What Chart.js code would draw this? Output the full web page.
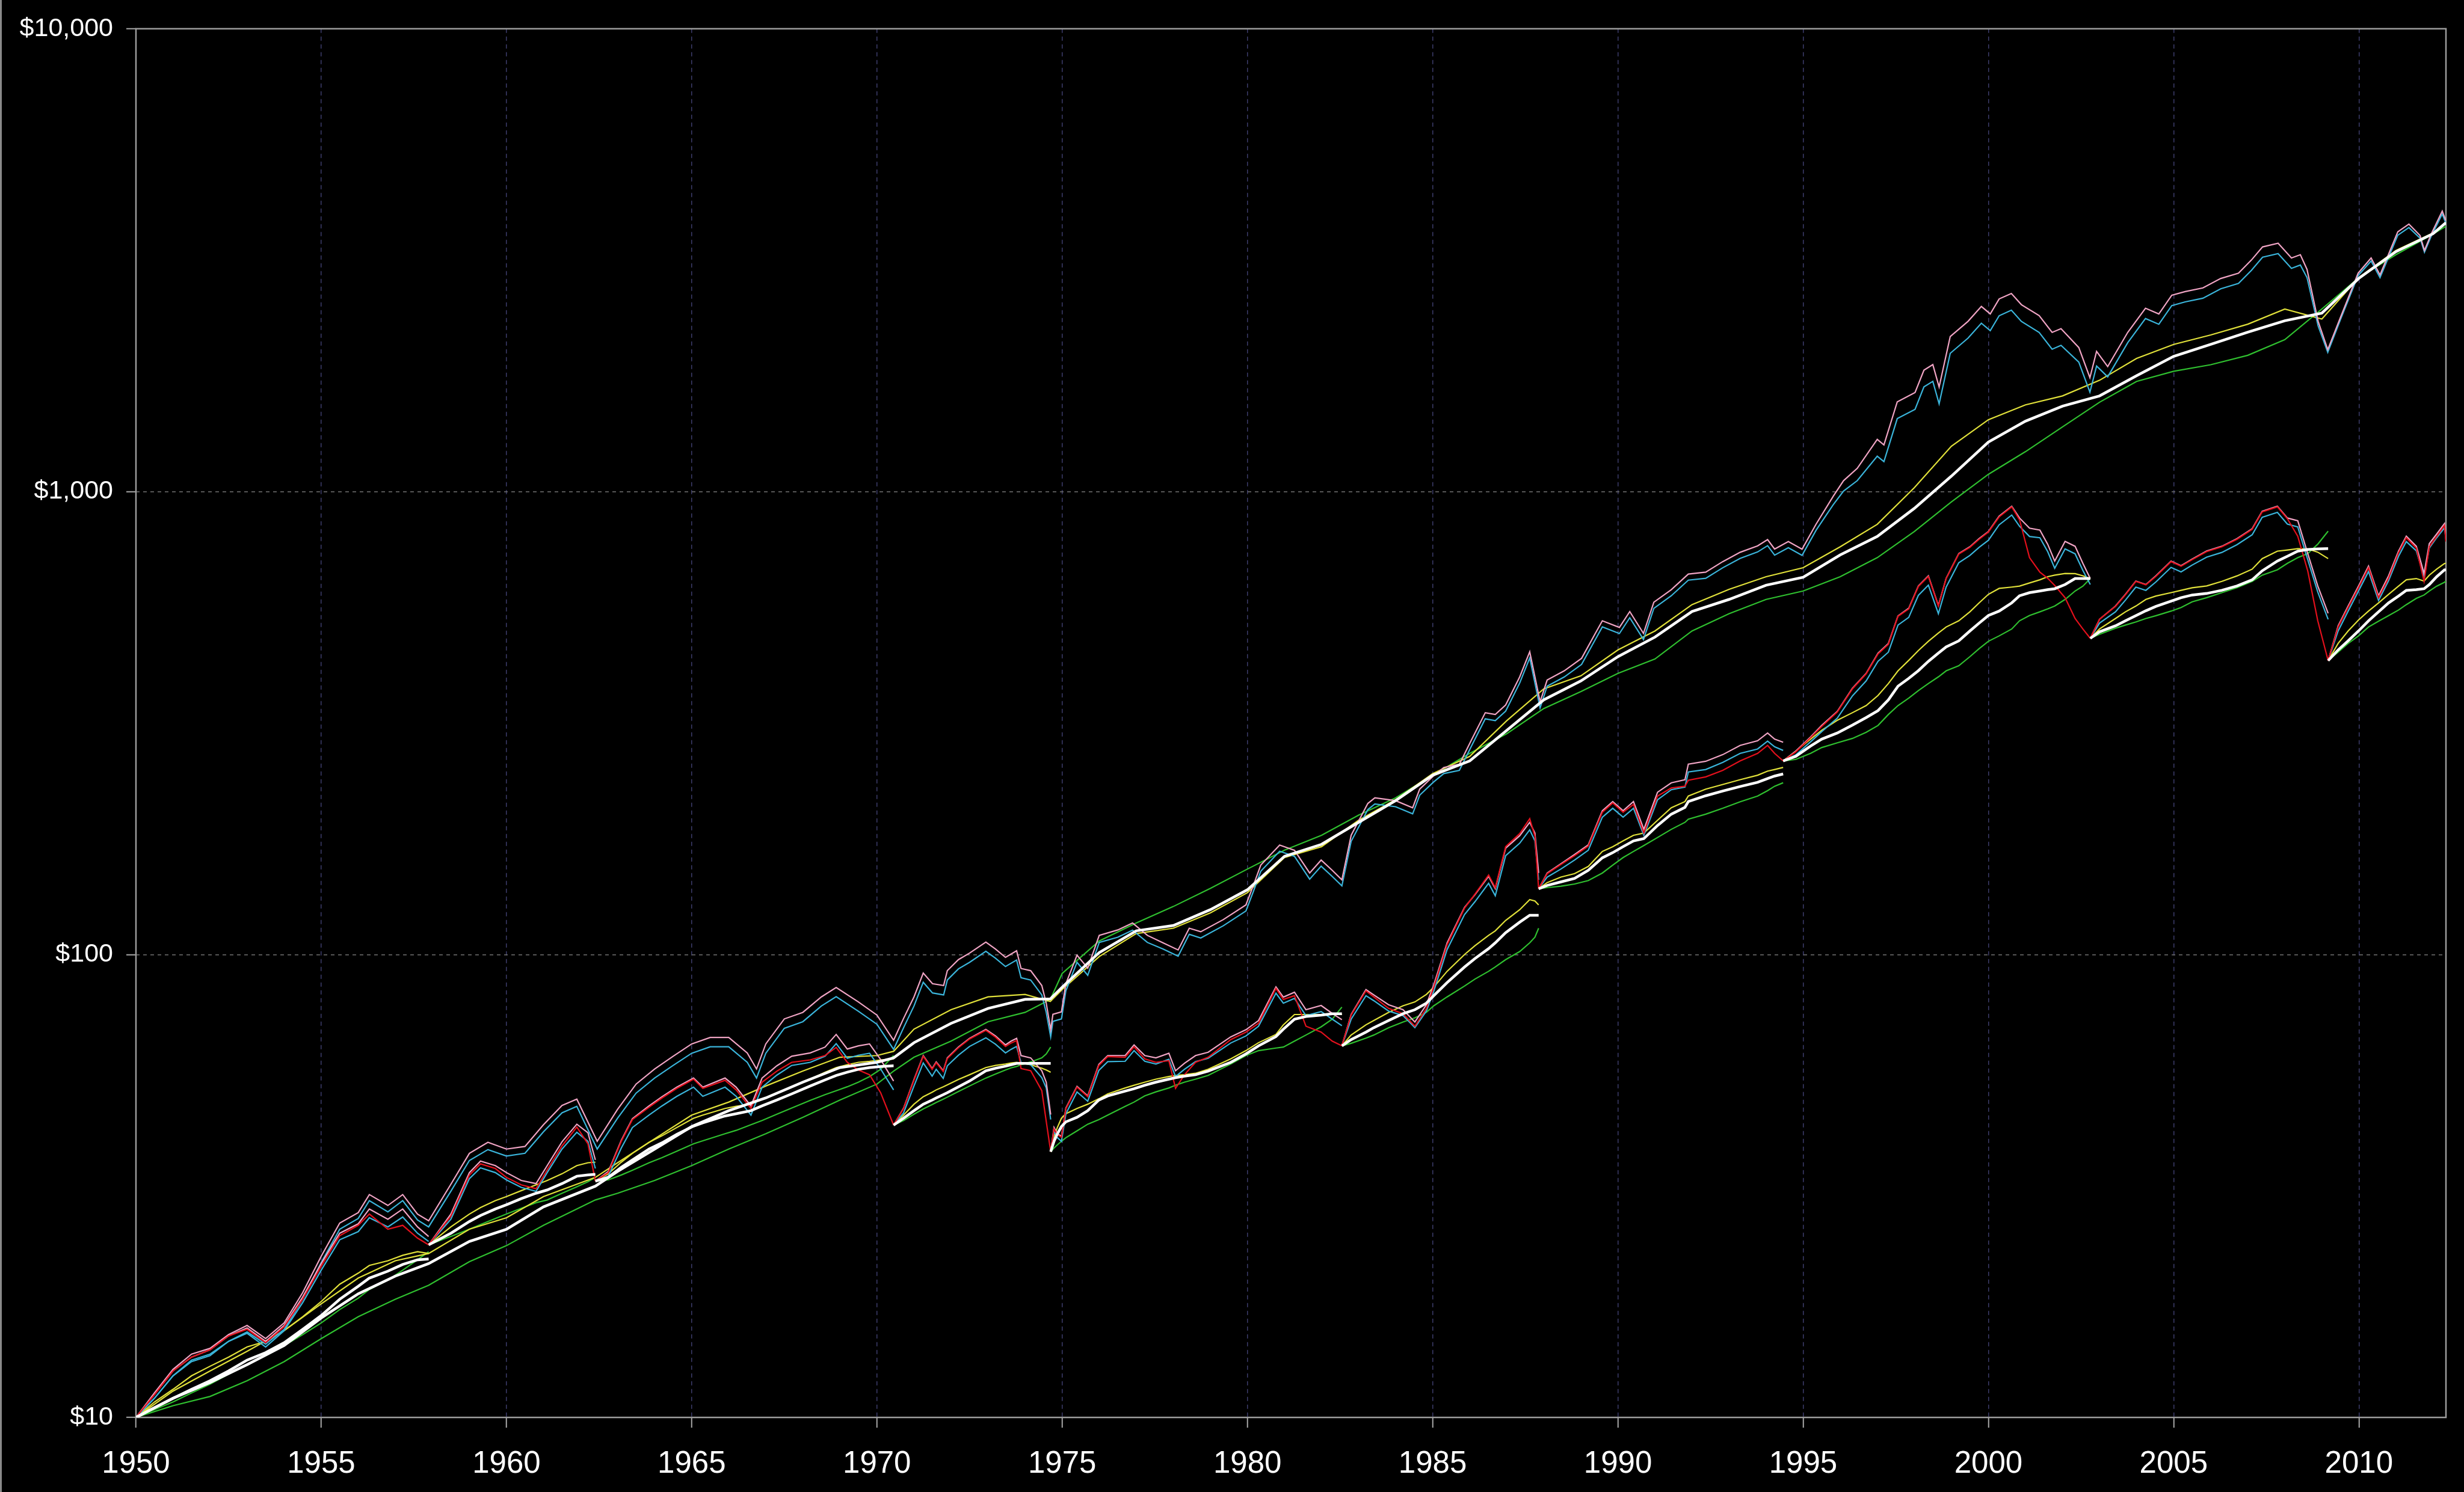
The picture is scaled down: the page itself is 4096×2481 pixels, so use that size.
<!DOCTYPE html>
<html>
<head>
<meta charset="utf-8">
<script src="https://cdn.jsdelivr.net/npm/chart.js@4.4.1/dist/chart.umd.min.js"></script>
<style>
html, body { margin: 0; padding: 0; background: #000; }
canvas { display: block; background: #000; }
</style>
</head>
<body>
<canvas id="growthChart" width="4096" height="2481"></canvas>
<script>
// x axis labels
const yearTicks = [1950, 1955, 1960, 1965, 1970, 1975, 1980, 1985, 1990, 1995, 2000, 2005, 2010];
const valueTicks = [10, 100, 1000, 10000];

// long run from 1950 (never restarted)
const topJagX = [1950.0,1950.5,1951.0,1951.5,1952.0,1952.5,1953.0,1953.5,1954.0,1954.5,
  1955.0,1955.5,1956.0,1956.3,1956.8,1957.2,1957.6,1957.9,1958.5,1959.0,
  1959.5,1960.0,1960.5,1961.0,1961.5,1961.9,1962.45,1963.0,1963.5,1964.0,
  1964.5,1965.0,1965.5,1966.0,1966.5,1966.75,1967.0,1967.5,1968.0,1968.5,
  1968.9,1969.5,1970.0,1970.45,1970.72,1971.0,1971.25,1971.5,1971.8,1971.9,
  1972.2,1972.5,1972.94,1973.2,1973.47,1973.77,1973.89,1974.15,1974.45,1974.57,
  1974.69,1974.75,1974.98,1975.1,1975.4,1975.69,1976.0,1976.5,1976.9,1977.3,
  1977.72,1978.13,1978.43,1978.74,1979.35,1979.96,1980.16,1980.36,1980.87,1981.27,
  1981.68,1981.99,1982.29,1982.55,1982.8,1983.25,1983.44,1984.0,1984.46,1984.65,
  1985.02,1985.3,1985.72,1986.04,1986.42,1986.69,1986.97,1987.35,1987.62,1987.9,
  1988.09,1988.55,1989.02,1989.39,1989.58,1990.04,1990.32,1990.69,1990.97,1991.44,
  1991.9,1992.37,1992.83,1993.3,1993.77,1994.04,1994.23,1994.6,1994.97,1995.35,
  1995.81,1996.09,1996.46,1997.0,1997.18,1997.54,1998.02,1998.26,1998.5,1998.67,
  1998.97,1999.45,1999.81,2000.05,2000.29,2000.62,2000.89,2001.37,2001.72,2001.96,
  2002.44,2002.74,2002.92,2003.22,2003.76,2004.24,2004.6,2004.95,2005.31,2005.79,
  2006.27,2006.75,2007.1,2007.4,2007.82,2008.18,2008.42,2008.6,2008.9,2009.16,
  2009.5,2009.98,2010.33,2010.57,2011.05,2011.35,2011.65,2011.77,2011.95,2012.25,
  2012.35];
const topPink = [10,11.3,12.7,13.7,14.1,15.1,15.8,14.8,16.0,18.6,
  22.3,26.3,27.7,30.3,28.7,30.3,27.5,26.6,31.9,37.2,
  39.3,38.0,38.5,42.9,47.2,48.7,39.5,46.3,52.5,56.6,
  60.3,64.1,66.2,66.2,61.3,56.6,64.1,72.6,75.0,81.0,
  84.9,79.0,74.0,65.3,72.8,81.0,91.2,86.5,85.7,92.3,
  97.5,100.7,106.4,102.8,98.6,101.9,93.3,92.3,85.7,78.5,
  68.8,74.3,75.2,86.5,99.7,93.5,110,113,117,110,
  106,102.3,114,112,119,128,141,156,172.4,168,
  150,160,152,145,181,212,218,215,207.5,227.7,
  243,253.6,257.6,290,333,330,346,398,450.8,351.6,
  391.7,410,436.5,494,526,509,550.6,494,576.8,614,
  663.7,670,706,739.6,763.6,787.8,751.6,780,751,851,
  977,1056,1123,1297,1262,1563,1637,1830,1881,1683,
  2163,2333,2512,2421,2608,2680,2535,2400,2208,2250,
  2048,1763,2009,1863,2208,2490,2420,2656,2705,2755,
  2887,2965,3165,3378,3440,3197,3250,3021,2333,2027,
  2376,2965,3197,2938,3641,3784,3576,3319,3600,4036,
  3846];
const topCyan = [10,11.0,12.3,13.3,13.7,14.6,15.3,14.4,15.5,18.0,
  21.6,25.5,26.9,29.4,27.8,29.4,26.7,25.8,30.8,35.9,
  37.9,36.7,37.2,41.4,45.5,47.0,38.0,44.3,50.2,54.1,
  57.6,61.2,63.2,63.2,58.5,54.1,61.2,69.3,71.6,77.4,
  81.1,75.4,70.7,62.4,69.5,77.4,87.1,82.6,81.8,88.1,
  93.1,96.2,101.6,98.2,94.2,97.3,89.1,88.1,81.8,75.0,
  66.4,71.7,72.6,83.5,96.2,90.2,106.2,109.0,112.9,106.2,
  102.8,99.2,110.6,108.6,115.4,124.2,136.8,151.3,167.2,163.0,
  145.5,155.2,147.4,140.7,175.6,205.6,211.5,208.6,201.3,220.9,
  235.7,246.0,249.9,281.3,323.0,320.1,335.6,386.1,437.3,341.1,
  380.0,397.7,423.4,479.2,510.2,493.7,534.1,479.2,559.5,595.6,
  643.8,649.9,684.8,717.4,740.7,764.2,729.1,756.6,728.5,825.5,
  937,1003,1056,1193,1161,1438,1506,1684,1731,1548,
  1990,2146,2311,2227,2399,2466,2332,2208,2031,2070,
  1905,1640,1868,1770,2098,2366,2299,2523,2570,2617,
  2743,2817,3007,3209,3268,3037,3088,2900,2280,2000,
  2350,2930,3150,2900,3580,3720,3530,3290,3560,3980,
  3800];
const topSmoothX = [1950,1951,1952,1953,1954,1955,1956,1957,1957.9,1959,1960,1961,1962.4,
  1963,1964,1965,1966,1967,1968,1969,1970,1970.45,1971,1972,1973,1974,1974.68,
  1975,1976,1977,1978,1979,1980,1981,1982,1983,1984,1985,1986,1987,1988,1989,
  1990,1991,1992,1993,1994,1995,1996,1997,1998,1999,2000,2001,2002,2003,2004,
  2005,2006,2007,2008,2009,2010,2011,2012,2012.35];
const topYellow = [10,11.4,12.6,13.9,15.4,17.6,20.0,21.8,22.6,25.5,27,30,33,
  35.5,40,45,48,52,56,60,60.5,61.8,69,76,81,82,79.2,
  84,99,111,114,123,136,162,171,195,216,246,268,320,375,400,
  455,500,570,615,655,685,760,850,1020,1253,1430,1540,1610,1740,1940,
  2080,2180,2300,2480,2360,2900,3320,3620,3820];
const topWhite = [10,11.0,11.9,13.0,14.3,16.4,18.5,20.2,21.5,24.0,25.5,28.5,31.6,
  34,38,42.5,46,49,53,57,58.5,59.8,64.5,71,76.5,80,80.2,
  85,101,112.5,115.5,125,138,163,173,193,215,244,262,305,355,390,
  440,485,551,585,628,653,730,800,920,1080,1280,1420,1530,1610,1780,
  1960,2080,2210,2340,2430,2890,3300,3607,3811];
const topGreen = [10,10.6,11.1,12.0,13.2,14.8,16.5,18.0,19.3,21.7,23.5,26.0,29.5,
  30.5,32.5,35,38,41,44.5,48.5,52.5,56,60,65,71.6,75,80,
  91,107,117,127,139,153,168,181,200,218,244,272,300,340,370,
  405,435,500,545,585,610,655,720,820,950,1090,1220,1380,1560,1730,
  1820,1880,1970,2130,2480,2900,3250,3600,3743];

// cycle runs, each restarted at the red line's value
const c0X = [1950,1950.5,1951,1951.5,1952,1952.5,1953,1953.5,1954,1954.5,1955,1955.5,1956,1956.3,1956.8,1957.2,1957.6,1957.9];
const c0Pink = [10,11.2,12.6,13.5,14.0,15.0,15.6,14.6,15.8,18.2,21.5,25.0,26.2,28.2,26.8,28.2,25.8,24.6];
const c0Cyan = [10,11.0,12.3,13.2,13.6,14.6,15.2,14.2,15.4,17.7,20.8,24.2,25.2,27.0,25.8,27.1,25.0,24.0];
const c0Red = [10,11.2,12.6,13.5,14.0,15.0,15.5,14.5,15.7,18.0,21.2,24.7,26.0,27.5,25.5,26.0,24.4,23.6];
const c0Yellow = [10,10.8,11.5,12.3,12.9,13.5,14.2,14.6,15.4,16.5,17.8,19.4,20.5,21.3,21.8,22.4,22.8,22.6];
const c0White = [10,10.5,11.0,11.5,12.0,12.6,13.3,13.8,14.5,15.5,16.6,18.0,19.2,20.0,20.7,21.4,21.9,22.0];
const c0Green = [10,10.4,10.8,11.3,11.8,12.4,13.0,13.6,14.3,15.1,16.0,17.1,18.1,18.9,19.8,20.8,21.9,22.8];

const c1X = [1957.9,1958.5,1959.0,1959.3,1959.7,1960.0,1960.4,1960.8,1961.1,1961.5,1961.9,1962.2,1962.4];
const c1Pink = [23.6,27.5,33.8,35.8,35.0,33.8,32.5,32.0,35.0,39.4,43.0,41.2,36.0];
const c1Cyan = [23.6,26.8,32.8,34.6,33.8,32.6,31.4,30.8,33.8,38.0,41.3,39.5,34.5];
const c1Red = [23.6,27.2,33.4,35.3,34.5,33.0,31.8,31.2,34.3,38.6,42.4,39.0,32.4];
const c1Yellow = [23.6,25.8,27.5,28.4,29.4,30.0,30.9,31.8,32.5,33.6,35.0,35.5,35.6];
const c1White = [23.6,25.0,26.5,27.3,28.2,28.8,29.7,30.5,31.0,32.0,33.2,33.4,33.5];
const c1Green = [23.6,24.6,25.5,26.1,26.9,27.5,28.3,29.1,29.5,30.5,31.5,32.3,33.0];

const c2X = [1962.4,1962.75,1963.1,1963.4,1963.85,1964.2,1964.6,1965.05,1965.3,1965.9,1966.2,1966.6,1966.9,1967.3,1967.7,1968.2,1968.6,1968.9,1969.2,1969.5,1969.8,1970.1,1970.45];
const c2Pink = [32.4,34.0,39.7,44.2,47.1,49.3,51.7,54.1,51.7,54.1,51.7,47.1,54.1,57.5,60.3,61.3,63.1,67.2,62.5,63.5,64.1,59.3,53.3];
const c2Cyan = [32.4,33.2,38.2,42.3,45.0,47.1,49.4,51.7,49.4,51.7,49.4,45.0,51.7,54.9,57.6,58.5,60.3,64.2,59.7,60.6,61.2,56.6,51.0];
const c2Red = [32.4,33.8,39.5,44.0,46.8,49.0,51.4,53.8,51.4,53.5,51.0,46.5,53.0,56.0,58.5,59.2,60.5,63.0,58.5,56.3,55.0,50.3,42.8];
const c2Yellow = [32.4,33.6,35.6,37.2,39.3,40.6,42.3,44.3,45.0,46.5,47.0,47.5,48.7,50.3,51.8,53.8,55.7,57.0,57.8,58.5,58.8,59.2,59.5];
const c2White = [32.4,33.0,34.7,36.0,38.0,39.2,40.9,42.6,43.3,44.8,45.3,46.0,47.1,48.5,50.0,52.0,53.6,54.8,55.7,56.5,57.0,57.3,57.5];
const c2Green = [32.4,32.6,33.4,34.2,35.5,36.4,37.6,39.0,39.6,41.0,41.7,42.9,43.8,45.2,46.6,48.4,49.8,50.8,51.8,53.0,54.5,56.5,60.5];

const c3X = [1970.45,1970.72,1971.0,1971.25,1971.49,1971.6,1971.79,1971.9,1972.2,1972.5,1972.94,1973.2,1973.47,1973.62,1973.77,1973.89,1974.15,1974.45,1974.57,1974.69];
const c3Pink = [42.8,46.6,53.7,60.5,56.7,58.6,56.1,59.8,63.1,65.9,68.9,66.7,63.8,65.0,65.9,60.5,59.8,56.1,53.0,45.1];
const c3Cyan = [42.8,45.5,52.0,58.3,54.6,56.5,54.0,57.5,60.6,63.3,66.1,64.0,61.3,62.4,63.3,58.4,57.8,54.2,51.5,44.0];
const c3Red = [42.8,46.5,53.5,60.3,56.5,58.4,55.9,59.6,62.9,65.7,68.6,66.3,63.3,64.4,65.2,56.7,56.1,50.8,43.6,37.5];
const c3Yellow = [42.8,45.0,47.5,49.3,50.4,51.0,51.8,52.3,53.7,55.0,57.0,57.6,58.0,58.3,58.5,58.3,57.8,56.8,56.3,55.7];
const c3White = [42.8,44.3,46.0,47.5,48.5,49.0,49.8,50.3,51.8,53.3,56.1,56.8,57.4,57.8,58.2,58.2,58.2,58.2,58.2,58.2];
const c3Green = [42.8,43.8,45.2,46.4,47.4,47.9,48.7,49.2,50.6,52.0,54.1,55.2,56.3,56.9,57.3,57.8,58.6,59.8,61.0,63.1];

const c4X = [1974.69,1974.78,1974.87,1974.98,1975.1,1975.4,1975.69,1975.99,1976.23,1976.7,1976.94,1977.23,1977.53,1977.88,1978.06,1978.3,1978.6,1978.94,1979.55,1979.96,1980.3,1980.77,1980.97,1981.27,1981.58,1981.99,1982.29,1982.55];
const c4Pink = [37.5,42.3,41.0,40.5,46.6,51.9,49.5,57.9,60.5,60.5,63.8,60.5,59.8,61.2,56.1,58.2,60.5,61.5,66.4,68.8,72,85.1,80.9,82.9,76.0,77.6,74.6,72.3];
const c4Cyan = [37.5,41.5,40.2,39.5,45.3,50.5,48.2,56.2,58.7,58.8,62.0,58.8,58.0,59.4,54.5,56.5,58.7,59.7,64.4,66.7,70,82.5,78.5,80.4,73.8,75.3,72.5,70.2];
const c4Red = [37.5,42.0,40.8,40.3,46.4,51.7,49.3,57.6,60.2,60.0,63.2,59.5,58.5,59.0,51.4,55.0,58.5,60.0,65.5,68.0,71,84.5,80.0,81.5,70.0,68.0,65.0,63.5];
const c4Yellow = [37.5,40.5,42.3,44.3,45.3,46.5,47.5,48.8,50.0,51.5,52.2,53.0,53.8,54.5,54.8,55.0,55.4,56.5,59.5,62.0,64.5,67.2,70.5,74.2,74.2,74.2,74.2,74.2];
const c4White = [37.5,39.5,41.0,42.5,43.5,44.5,46.0,48.5,49.5,50.7,51.3,52.2,53.0,53.8,54.2,54.6,55.0,56.0,58.5,61.0,63.5,66.5,69.0,72.5,73.5,74.0,74.5,74.5];
const c4Green = [37.5,38.2,38.8,39.5,40.2,41.6,43.0,44.0,45.0,47.0,48.0,49.5,50.5,51.5,52.2,53.0,53.8,54.8,58.0,60.5,62.0,62.8,63.1,65.0,67.0,69.8,72.5,77.0];

const c5X = [1982.55,1982.8,1983.2,1983.41,1983.81,1984.2,1984.52,1984.83,1985.03,1985.39,1985.86,1986.14,1986.51,1986.69,1986.97,1987.35,1987.62,1987.76,1987.86];
const c5Pink = [63.5,74.2,84.0,81.8,77.9,76.0,71.5,77.9,86.0,106,126.4,134.6,147.6,138.8,169.7,180.6,193,183,150];
const c5Cyan = [63.5,72.5,81.5,79.5,75.5,73.8,69.5,75.5,83.3,102.5,122,130,142.5,134,163.5,174,186,176,145];
const c5Red = [63.5,74.0,83.5,81.0,76.5,74.5,70.0,76.5,85.0,105,126,135,148.5,139.5,171,182.5,196.6,180,138.7];
const c5Yellow = [63.5,67.0,70.5,72.0,75.0,77.5,79.0,82.0,85.0,92.0,100.0,104.5,110.0,112.5,118.5,125.0,131.4,130.5,128.0];
const c5White = [63.5,65.5,68.0,69.5,72.0,74.5,76.0,78.5,81.5,87.0,94.0,98.0,103.0,106.0,111.5,117.5,121.6,121.6,121.6];
const c5Green = [63.5,64.3,66.0,67.0,69.5,71.5,73.0,75.0,77.5,81.0,85.5,88.5,92.0,94.0,97.5,101.5,106.0,109.0,114.0];

const c6X = [1987.86,1988.09,1988.46,1988.83,1989.2,1989.58,1989.86,1990.14,1990.42,1990.7,1991.07,1991.44,1991.81,1991.9,1992.37,1992.83,1993.3,1993.77,1994.04,1994.23,1994.46];
const c6Pink = [138.7,150,157,164.5,172.5,204.5,214,204.5,214,186.4,224.2,234.9,238.6,257.8,261.5,270.3,283,289.6,301,292,287.5];
const c6Cyan = [138.7,147,153,160,168,198,207,198,207,181,216,227,230,248,251,260,272,278,289,281,276];
const c6Red = [138.7,149.5,156.5,163.5,171.5,203,212.5,203,211,183,220,229,231,238,242,250,262,272,283,272,262];
const c6Yellow = [138.7,143,147,149.5,155,167,171,176,181,183,195,207.5,214,220,227.7,233,238.6,244,249,251,253.6];
const c6White = [138.7,141,143.5,146,152,161.8,166,171,176,178,190,201,208,214,220.3,225.5,230.7,235.5,240,243,245.5];
const c6Green = [138.7,139.5,140.5,142,144.5,150,156,162,167,172,179,186.4,193,196,201,207,213.8,220,226,231,235];

const c7X = [1994.46,1994.8,1995.2,1995.5,1995.92,1996.33,1996.7,1997.02,1997.3,1997.56,1997.85,1998.11,1998.38,1998.65,1998.86,1999.2,1999.5,1999.75,2000.0,2000.29,2000.63,2000.84,2001.11,2001.39,2001.6,2001.79,2002.07,2002.34,2002.55,2002.75];
const c7Pink = [262,275,295,312.5,335,376,405,447.7,470,539,560,625.5,657.6,567.6,650,735,760,791.5,820,885,930,877,834,826,770,708,781,762,700,649];
const c7Cyan = [262,270,288,303,324,362,390,430,450,515,535,597,628,545,622,702,728,758,785,848,890,842,800,795,742,683,752,734,676,630];
const c7Red = [262,274,294,311,334,375,404,446,468,538,558,624,656,566,649,733,758,789,818,882,927,870,720,670,650,627,590,532,505,482];
const c7Yellow = [262,275,292,305,320.6,333,345,362.7,385,410,432,453.6,475,495,510,526,550,575,600,618,622,625,635,645,655,660,665.6,665,658,649];
const c7White = [262,268,282,292,301,313,325,336.5,355,380,395,410.5,430,448,462,476,500,520,540,552,575,595.7,605,610,614,617,630,649,649,649];
const c7Green = [262,264,272,280,286.6,293,302,312.5,330,345,358,371.6,385,398,410,420.6,440,458,475,488,505,526,540,550,558,566,585,610,625,649];

const c8X = [2002.75,2003.0,2003.43,2003.7,2003.98,2004.25,2004.52,2004.93,2005.2,2005.5,2005.89,2006.3,2006.71,2007.12,2007.39,2007.8,2008.07,2008.35,2008.62,2008.89,2009.17];
const c8Pink = [482,530,566,600,641,630,657.6,708,691.7,715,744,762,791.5,831.8,907,930,877,865,735,625.5,546];
const c8Cyan = [482,520,550,583,622,612,638,686,671,694,722,739,768,807,880,902,851,839,713,607,530];
const c8Red = [482,530,565,599,640,629,656,706,690,713,742,760,789,829,904,927,874,801,674,526,431.5];
const c8Yellow = [482,505,532,550,566,585,595,605,612,620,625.5,640,657.6,680,716.6,743.7,748,753,752,740,716.6];
const c8White = [482,498,513,526,539.5,553,565,580,590,598,602.6,612,625.5,645,674.5,708,725,743.7,750,752,753];
const c8Green = [482,492,507,515,523,532,539.5,552,562,578,590,605,620,640,660,678,700,720,735,770,821.6];

const c9X = [2009.17,2009.44,2009.71,2009.99,2010.26,2010.53,2010.8,2011.07,2011.28,2011.55,2011.76,2011.9,2012.1,2012.31,2012.35];
const c9Pink = [431.5,513,566,625.5,690.5,595.7,657.6,743.7,801,762,665.6,772,810,853,800];
const c9Cyan = [431.5,500,552,610,672,582,642,725,780,745,655,755,795,835,790];
const c9Red = [431.5,510,562,620,685,590,650,738,795,755,640,760,800,845,780];
const c9Yellow = [431.5,470,500,528,552,575,600,625,645,649,641,660,680,699.5,700];
const c9White = [431.5,455,476,500,526,550,575,595,612,614,617,630,655,677.6,678];
const c9Green = [431.5,450,470,488,510,525,539.5,555,570,588,598,610,625,637,640];

const lineColors = {
  pink: '#f0a4c4',
  cyan: '#3ab4da',
  red: '#e3101c',
  yellow: '#e0e03a',
  white: '#ffffff',
  green: '#2fbf2f'
};
// lower order is drawn on top
const drawOrder = {white: 0, red: 1, pink: 2, cyan: 3, yellow: 4, green: 5};

function series(xs, ys, key) {
  return {
    data: xs.map((x, i) => ({x: x, y: ys[i]})),
    borderColor: lineColors[key],
    borderWidth: key === 'white' ? 4.5 : 2.2,
    order: drawOrder[key],
    pointRadius: 0,
    tension: 0,
    fill: false
  };
}

const datasets = [
  series(topJagX, topPink, 'pink'),
  series(topJagX, topCyan, 'cyan'),
  series(topSmoothX, topYellow, 'yellow'),
  series(topSmoothX, topWhite, 'white'),
  series(topSmoothX, topGreen, 'green')
];

const cycles = [
  [c0X, c0Pink, c0Cyan, c0Red, c0Yellow, c0White, c0Green],
  [c1X, c1Pink, c1Cyan, c1Red, c1Yellow, c1White, c1Green],
  [c2X, c2Pink, c2Cyan, c2Red, c2Yellow, c2White, c2Green],
  [c3X, c3Pink, c3Cyan, c3Red, c3Yellow, c3White, c3Green],
  [c4X, c4Pink, c4Cyan, c4Red, c4Yellow, c4White, c4Green],
  [c5X, c5Pink, c5Cyan, c5Red, c5Yellow, c5White, c5Green],
  [c6X, c6Pink, c6Cyan, c6Red, c6Yellow, c6White, c6Green],
  [c7X, c7Pink, c7Cyan, c7Red, c7Yellow, c7White, c7Green],
  [c8X, c8Pink, c8Cyan, c8Red, c8Yellow, c8White, c8Green],
  [c9X, c9Pink, c9Cyan, c9Red, c9Yellow, c9White, c9Green]
];
const keys = ['pink', 'cyan', 'red', 'yellow', 'white', 'green'];
cycles.forEach(c => {
  keys.forEach((k, j) => datasets.push(series(c[0], c[j + 1], k)));
});

const fontFamily = "'Liberation Sans', Arial, sans-serif";

const chartFrame = {
  id: 'chartFrame',
  beforeDatasetsDraw(chart) {
    const {ctx, chartArea: {left, top, width, height}} = chart;
    ctx.save();
    ctx.strokeStyle = '#9c9c9c';
    ctx.lineWidth = 2.5;
    ctx.strokeRect(left, top, width, height);
    ctx.restore();
  },
  afterDraw(chart) {
    const ctx = chart.ctx;
    ctx.save();
    ctx.strokeStyle = '#8a8a8a';
    ctx.lineWidth = 3;
    ctx.beginPath();
    ctx.moveTo(1.5, 0);
    ctx.lineTo(1.5, chart.height);
    ctx.stroke();
    ctx.restore();
  }
};

new Chart(document.getElementById('growthChart').getContext('2d'), {
  type: 'line',
  data: {datasets: datasets},
  options: {
    responsive: false,
    animation: false,
    devicePixelRatio: 1,
    layout: {padding: {top: 37, right: 30, left: 0, bottom: 0}},
    plugins: {
      legend: {display: false},
      tooltip: {enabled: false}
    },
    scales: {
      x: {
        type: 'linear',
        min: 1950,
        max: 2012.35,
        afterBuildTicks: scale => { scale.ticks = yearTicks.map(v => ({value: v})); },
        afterFit: scale => { scale.height = 124; },
        grid: {
          color: c => (c.tick && c.tick.value === 1950) ? 'rgba(0,0,0,0)' : '#3d3d6c',
          lineWidth: 1.5,
          drawTicks: true,
          tickLength: 17,
          tickColor: '#a8a8a8',
          tickWidth: 2
        },
        border: {display: false, dash: [7, 6]},
        ticks: {
          color: '#ffffff',
          padding: 30,
          maxRotation: 0,
          autoSkip: false,
          font: {family: fontFamily, size: 51},
          callback: v => String(v)
        }
      },
      y: {
        type: 'logarithmic',
        min: 10,
        max: 10000,
        afterBuildTicks: scale => { scale.ticks = valueTicks.map(v => ({value: v})); },
        afterFit: scale => { scale.width = 226; },
        grid: {
          color: c => (c.tick && (c.tick.value === 10 || c.tick.value === 10000)) ? 'rgba(0,0,0,0)' : '#707070',
          lineWidth: 1.5,
          drawTicks: true,
          tickLength: 16,
          tickColor: '#a8a8a8',
          tickWidth: 2
        },
        border: {display: false, dash: [6, 6]},
        ticks: {
          color: '#ffffff',
          padding: 22,
          autoSkip: false,
          font: {family: fontFamily, size: 43},
          callback: v => '$' + Number(v).toLocaleString('en-US')
        }
      }
    }
  },
  plugins: [chartFrame]
});
</script>
</body>
</html>
